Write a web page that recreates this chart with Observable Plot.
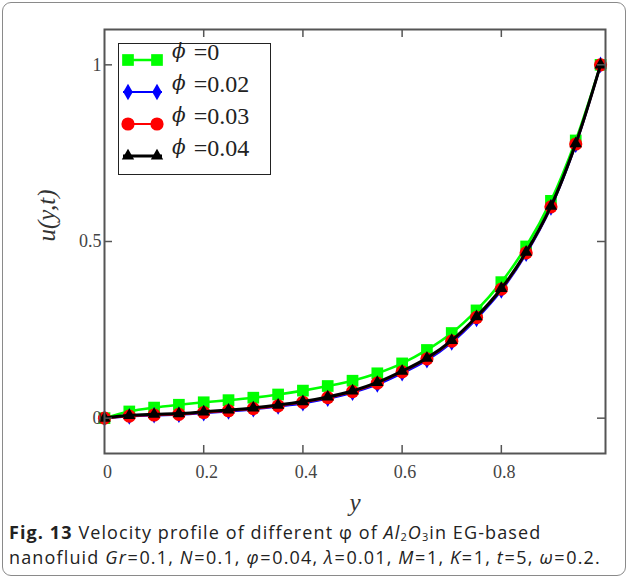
<!DOCTYPE html>
<html><head><meta charset="utf-8">
<script src="https://cdn.jsdelivr.net/npm/d3@7"></script>
<script src="https://cdn.jsdelivr.net/npm/@observablehq/plot@0.6"></script>
<style>
body{margin:0;background:#fff;}
#wrap{position:relative;width:630px;height:580px;overflow:hidden;background:#fff}
#border{position:absolute;left:2px;top:2px;width:624px;height:574px;border:1.5px solid #8a8a8a;border-radius:9px;box-sizing:border-box}
#chart{position:absolute;left:0;top:0}
#legend{position:absolute;left:118px;top:43px;width:153px;height:132px;border:1.5px solid #222;box-sizing:border-box;background:#fff}
#legend svg{position:absolute;left:0;top:0;overflow:visible}
.cap{position:absolute;left:9px;font-family:"Open Sans",sans-serif;font-size:18px;line-height:24.5px;color:#222;white-space:nowrap}
#cap1{top:520px;letter-spacing:1.1px}
#cap2{top:545px;letter-spacing:1.15px}
.cap sub{font-size:11px;vertical-align:-2px;line-height:0}
.cap .eq{margin:0 0.5px}
</style></head>
<body>
<div id="wrap">
  <div id="border"></div>
  <div id="chart"></div>
  <div id="legend"></div>
  <div class="cap" id="cap1"><b>Fig. 13</b> Velocity profile of different φ of <i>Al</i><sub>2</sub><i>O</i><sub>3</sub>in EG-based</div>
  <div class="cap" id="cap2">nanofluid <i>Gr</i><span class="eq">=</span>0.1, <i>N</i><span class="eq">=</span>0.1, <i>φ</i><span class="eq">=</span>0.04, <i>λ</i><span class="eq">=</span>0.01, <i>M</i><span class="eq">=</span>1, <i>K</i><span class="eq">=</span>1, <i>t</i><span class="eq">=</span>5, <i>ω</i><span class="eq">=</span>0.2.</div>
</div>
<script>
// ---- data ----
const yPos = [0, 0.05, 0.1, 0.15, 0.2, 0.25, 0.3, 0.35, 0.4, 0.45, 0.5, 0.55, 0.6, 0.65, 0.7, 0.75, 0.8, 0.85, 0.9, 0.95, 1.0];
const phiLabels = ["0", "0.02", "0.03", "0.04"];
const u_phi0    = [0, 0.019, 0.030, 0.038, 0.045, 0.051, 0.058, 0.067, 0.078, 0.091, 0.106, 0.127, 0.155, 0.193, 0.241, 0.305, 0.385, 0.486, 0.615, 0.786, 1.0];
const u_phi002  = [0, 0.005, 0.008, 0.010, 0.014, 0.019, 0.025, 0.033, 0.042, 0.055, 0.072, 0.095, 0.127, 0.164, 0.214, 0.281, 0.361, 0.465, 0.596, 0.774, 1.0];
const u_phi003  = [0, 0.006, 0.009, 0.011, 0.016, 0.021, 0.027, 0.035, 0.045, 0.058, 0.075, 0.099, 0.131, 0.168, 0.218, 0.285, 0.365, 0.468, 0.598, 0.776, 1.0];
const u_phi004  = [0, 0.008, 0.011, 0.013, 0.018, 0.023, 0.029, 0.037, 0.047, 0.060, 0.077, 0.101, 0.133, 0.170, 0.220, 0.287, 0.367, 0.470, 0.600, 0.777, 1.0];
const xTickValues = [0.2, 0.4, 0.6, 0.8];
const xTickLabels = [0, 0.2, 0.4, 0.6, 0.8];
const yTickValues = [0, 0.5, 1];

const seriesValues = [u_phi0, u_phi002, u_phi003, u_phi004];

// ---- styles ----
const styles = [
  {color: "#00ff00", symbol: "square",   r: 6.6, lw: 2.6},
  {color: "#0000ff", symbol: "diamond",  r: 5.0, lw: 2.2},
  {color: "#ff0000", symbol: "circle",   r: 6.6, lw: 2.2},
  {color: "#000000", symbol: "triangle", r: 4.6, lw: 3.0}
];

const rows = [];
seriesValues.forEach((vals, i) => vals.forEach((v, j) => rows.push({s: i, y: yPos[j], u: v})));

const W = 630, H = 515, mL = 104, mR = 25, mT = 29, mB = 62;
const pH = H - mT - mB, pW = W - mL - mR;
const axisCol = "#555";

const marks = [];
styles.forEach((st, i) => {
  const d = rows.filter(r => r.s === i);
  marks.push(Plot.line(d, {x: "y", y: "u", stroke: st.color, strokeWidth: st.lw, curve: "catmull-rom"}));
  marks.push(Plot.dot(d, {x: "y", y: "u", fill: st.color, stroke: "none", symbol: st.symbol, r: st.r}));
});

const chart = Plot.plot({
  width: W, height: H, marginLeft: mL, marginRight: mR, marginTop: mT, marginBottom: mB,
  x: {domain: [0, 1.01]},
  y: {domain: [-0.1, 1.1]},
  style: {fontFamily: "'Liberation Serif', serif", fontSize: "18px", color: "#444", background: "transparent", overflow: "visible"},
  marks: [
    ...marks,
    Plot.frame({stroke: axisCol, strokeWidth: 2}),
    Plot.tickX(xTickValues, {x: d => d, insetTop: pH - 8, stroke: axisCol, strokeWidth: 1.5}),
    Plot.tickX(xTickValues, {x: d => d, insetBottom: pH - 8, stroke: axisCol, strokeWidth: 1.5}),
    Plot.tickY(yTickValues, {y: d => d, insetRight: pW - 8, stroke: axisCol, strokeWidth: 1.5}),
    Plot.tickY(yTickValues, {y: d => d, insetLeft: pW - 8, stroke: axisCol, strokeWidth: 1.5}),
    Plot.axisX({ticks: xTickLabels, tickSize: 0, tickPadding: 12, label: null, tickFormat: d => String(d), dx: 3, fill: "#444"}),
    Plot.axisY({ticks: yTickValues, tickSize: 0, tickPadding: 3, label: null, tickFormat: d => String(d), fill: "#444"}),
    Plot.text(["y"], {frameAnchor: "bottom", dy: 49, text: d => d, fontStyle: "italic", fontSize: 25, fill: "#333", lineAnchor: "middle"}),
    Plot.text(["u(y,t)"], {frameAnchor: "left", dx: -58, text: d => d, rotate: -90, fontStyle: "italic", fontSize: 25, fill: "#333", lineAnchor: "middle"})
  ]
});
document.getElementById("chart").appendChild(chart);

// ---- legend ----
const leg = d3.select("#legend").append("svg").attr("width", 150).attr("height", 129);
const symMap = {square: d3.symbolSquare, diamond: d3.symbolDiamond, circle: d3.symbolCircle, triangle: d3.symbolTriangle};
const rowY = [16, 48, 80, 112];
styles.forEach((st, i) => {
  const g = leg.append("g").attr("transform", `translate(0,${rowY[i]})`);
  g.append("line").attr("x1", 4).attr("x2", 43).attr("y1", 0).attr("y2", 0).attr("stroke", st.color).attr("stroke-width", st.lw);
  [9, 38].forEach(cx => {
    g.append("path").attr("transform", `translate(${cx},0)`)
      .attr("d", d3.symbol(symMap[st.symbol], Math.PI * st.r * st.r)())
      .attr("fill", st.color);
  });
  const t = g.append("text").attr("x", 53).attr("y", 0).attr("dy", "0.32em")
    .attr("font-family", "'Liberation Serif', serif").attr("font-size", 24).attr("fill", "#222");
  t.append("tspan").attr("font-family", "'DejaVu Serif', serif").attr("font-style", "italic").attr("font-size", 20).attr("dy", "-0.1em").text("ϕ");
  t.append("tspan").attr("dx", 8).attr("dy", "0.1em").text("=" + phiLabels[i]);
});
</script>
</body></html>
